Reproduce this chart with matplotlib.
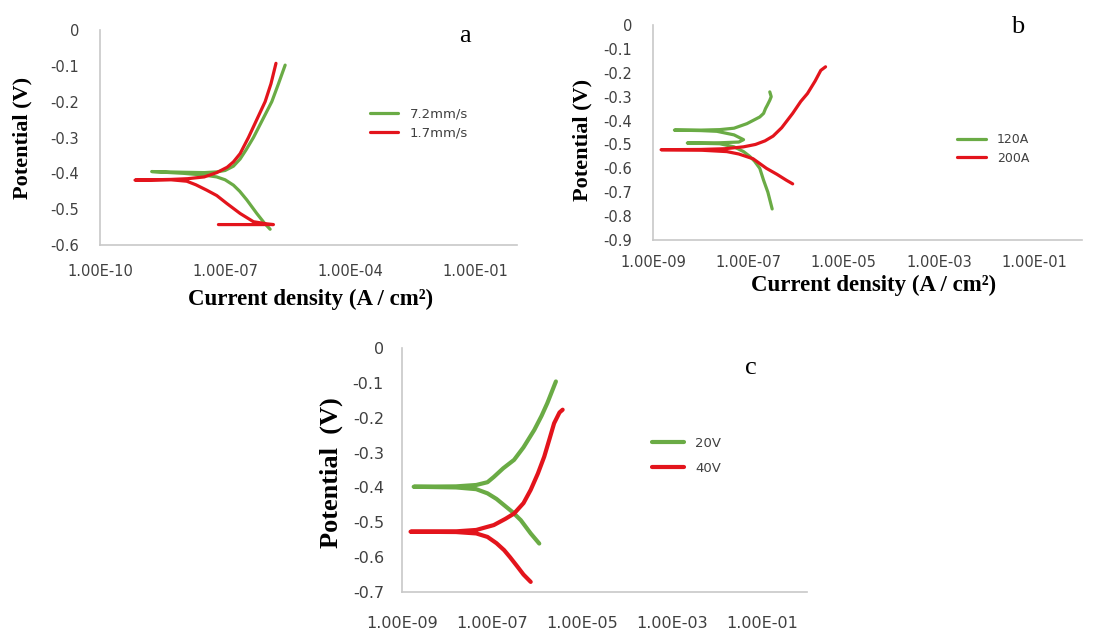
import numpy as np
import matplotlib.pyplot as plt

# Tafel polarization curves: log10(current density) and potential (V)
# panel a: travel speed
a_green_logi = [-5.92, -6.05, -6.24, -6.48, -6.65, -6.8, -7.0, -7.2, -7.5, -8.0, -8.76,
                -8.0, -7.5, -7.2, -7.0, -6.8, -6.64, -6.5, -6.32, -6.1, -5.88, -5.72, -5.56]
a_green_pot = [-0.556, -0.54, -0.512, -0.474, -0.45, -0.433, -0.418, -0.41, -0.405, -0.40, -0.395,
               -0.397, -0.398, -0.396, -0.392, -0.38, -0.36, -0.335, -0.30, -0.25, -0.20, -0.15, -0.098]
a_red_logi = [-7.16, -5.84, -6.0, -6.32, -6.64, -6.96, -7.2, -7.44, -7.7, -7.92, -8.3, -9.16,
              -8.3, -7.9, -7.5, -7.2, -6.95, -6.8, -6.64, -6.44, -6.24, -6.04, -5.9, -5.78]
a_red_pot = [-0.543, -0.543, -0.541, -0.535, -0.512, -0.484, -0.462, -0.447, -0.432, -0.422, -0.418, -0.419,
             -0.417, -0.415, -0.41, -0.398, -0.383, -0.368, -0.345, -0.30, -0.25, -0.20, -0.15, -0.093]
a_labels = ['7.2mm/s', '1.7mm/s']

# panel b: welding current
b_green_logi = [-6.5, -6.59, -6.68, -6.76, -6.87, -6.97, -7.1, -7.3, -7.6, -8.28,
                -7.6, -7.2, -7.1, -7.3, -7.66, -8.0, -8.55,
                -8.0, -7.6, -7.3, -7.03, -6.76, -6.68, -6.64, -6.6, -6.55, -6.52, -6.55]
b_green_pot = [-0.77, -0.70, -0.65, -0.60, -0.57, -0.55, -0.53, -0.51, -0.497, -0.494,
               -0.493, -0.49, -0.48, -0.46, -0.445, -0.442, -0.44,
               -0.44, -0.438, -0.432, -0.413, -0.385, -0.37, -0.35, -0.335, -0.315, -0.30, -0.28]
b_red_logi = [-6.07, -6.2, -6.4, -6.62, -6.9, -7.2, -7.45, -8.0, -8.83,
              -8.0, -7.5, -7.1, -6.85, -6.65, -6.48, -6.3, -6.07, -5.9, -5.76, -5.6, -5.48, -5.38]
b_red_pot = [-0.665, -0.65, -0.625, -0.60, -0.56, -0.54, -0.53, -0.524, -0.522,
             -0.521, -0.518, -0.51, -0.50, -0.485, -0.465, -0.43, -0.37, -0.32, -0.287, -0.235, -0.19, -0.175]
b_labels = ['120A', '200A']

# panel c: voltage
c_green_logi = [-5.95, -6.14, -6.36, -6.55, -6.73, -6.9, -7.1, -7.35, -7.8, -8.74,
                -7.8, -7.35, -7.1, -6.96, -6.75, -6.51, -6.3, -6.06, -5.9, -5.77, -5.58]
c_green_pot = [-0.561, -0.532, -0.494, -0.47, -0.451, -0.433, -0.417, -0.405, -0.40, -0.398,
               -0.397, -0.393, -0.385, -0.37, -0.345, -0.321, -0.285, -0.235, -0.195, -0.158, -0.096]
c_red_logi = [-6.14, -6.3, -6.43, -6.6, -6.73, -6.9, -7.1, -7.35, -7.8, -8.81,
              -7.8, -7.35, -6.96, -6.7, -6.51, -6.3, -6.14, -5.98, -5.84, -5.72, -5.62, -5.5, -5.43]
c_red_pot = [-0.671, -0.65, -0.628, -0.60, -0.58, -0.56, -0.542, -0.532, -0.528, -0.527,
             -0.526, -0.522, -0.508, -0.49, -0.475, -0.445, -0.407, -0.36, -0.312, -0.26, -0.216, -0.185, -0.177]
c_labels = ['20V', '40V']

GREEN = '#6aab45'
RED = '#e3141c'
TICKC = '#404040'
SERIF = 'Liberation Serif'
XLABEL = 'Current density (A / cm\u00b2)'

fig = plt.figure(figsize=(11, 6.39), dpi=100)


def axes_px(left, top, right, bottom):
    return fig.add_axes([left / 1100, 1 - bottom / 639, (right - left) / 1100, (bottom - top) / 639])


def style(ax, xlo, xticks, ylo, ystep, fs, xpad, ypad):
    ax.set_xscale('log')
    ax.set_xlim(xlo, 1.0)
    ax.set_ylim(ylo, 0)
    ax.set_xticks(xticks)
    ax.set_xticklabels(['%.2E' % t for t in xticks])
    ax.minorticks_off()
    yt = np.round(np.arange(ylo, 0.0001, ystep), 2)
    ax.set_yticks(yt)
    ax.set_yticklabels(['0' if v == 0 else '%g' % v for v in yt])
    for s in ['top', 'right']:
        ax.spines[s].set_visible(False)
    for s in ['left', 'bottom']:
        ax.spines[s].set_color('#c8c8c8')
        ax.spines[s].set_linewidth(1.2)
    ax.tick_params(axis='x', length=0, pad=xpad, labelsize=fs, labelcolor=TICKC)
    ax.tick_params(axis='y', length=0, pad=ypad, labelsize=fs, labelcolor=TICKC)


def curves(ax, gx, gy, rx, ry, labels, lw):
    ax.plot(np.power(10.0, gx), gy, color=GREEN, lw=lw, label=labels[0],
            solid_joinstyle='round', solid_capstyle='round')
    ax.plot(np.power(10.0, rx), ry, color=RED, lw=lw, label=labels[1],
            solid_joinstyle='round', solid_capstyle='round')


# ---- panel a
ax1 = axes_px(100, 30, 517, 245)
curves(ax1, a_green_logi, a_green_pot, a_red_logi, a_red_pot, a_labels, 2.3)
style(ax1, 1e-10, [1e-10, 1e-7, 1e-4, 1e-1], -0.6, 0.1, 10.5, 14, 15)
ax1.set_ylabel('Potential (V)', family=SERIF, fontweight='bold', fontsize=16)
ax1.yaxis.set_label_coords(-0.161, 0.50)
ax1.set_xlabel(XLABEL, family=SERIF, fontweight='bold', fontsize=16.5)
ax1.xaxis.set_label_coords(0.504, -0.205)
ax1.text(0.874, 0.97, 'a', transform=ax1.transAxes, family=SERIF, fontsize=19, ha='center', va='center')
ax1.legend(loc='center left', bbox_to_anchor=(0.647, 0.565), frameon=False, fontsize=9.5,
           handlelength=2.1, handletextpad=0.9, labelspacing=0.45, borderpad=0, borderaxespad=0,
           labelcolor=TICKC)

# ---- panel b
ax2 = axes_px(653, 25, 1082, 240)
curves(ax2, b_green_logi, b_green_pot, b_red_logi, b_red_pot, b_labels, 2.3)
style(ax2, 1e-9, [1e-9, 1e-7, 1e-5, 1e-3, 1e-1], -0.9, 0.1, 10.5, 11, 15)
ax2.set_ylabel('Potential (V)', family=SERIF, fontweight='bold', fontsize=16)
ax2.yaxis.set_label_coords(-0.142, 0.465)
ax2.set_xlabel(XLABEL, family=SERIF, fontweight='bold', fontsize=16.5)
ax2.xaxis.set_label_coords(0.515, -0.16)
ax2.text(0.850, 0.99, 'b', transform=ax2.transAxes, family=SERIF, fontsize=19, ha='center', va='center')
ax2.legend(loc='center left', bbox_to_anchor=(0.709, 0.423), frameon=False, fontsize=9,
           handlelength=2.3, handletextpad=0.9, labelspacing=0.45, borderpad=0, borderaxespad=0,
           labelcolor=TICKC)

# ---- panel c
ax3 = axes_px(402, 348, 807, 592)
curves(ax3, c_green_logi, c_green_pot, c_red_logi, c_red_pot, c_labels, 3.0)
style(ax3, 1e-9, [1e-9, 1e-7, 1e-5, 1e-3, 1e-1], -0.7, 0.1, 11.5, 17, 13)
ax3.set_ylabel('Potential  (V)', family=SERIF, fontweight='bold', fontsize=19)
ax3.yaxis.set_label_coords(-0.146, 0.488)
ax3.text(0.862, 0.92, 'c', transform=ax3.transAxes, family=SERIF, fontsize=19, ha='center', va='center')
ax3.legend(loc='center left', bbox_to_anchor=(0.617, 0.559), frameon=False, fontsize=9.5,
           handlelength=2.4, handletextpad=0.9, labelspacing=0.9, borderpad=0, borderaxespad=0,
           labelcolor=TICKC)

fig.savefig('out.png', dpi=100)
